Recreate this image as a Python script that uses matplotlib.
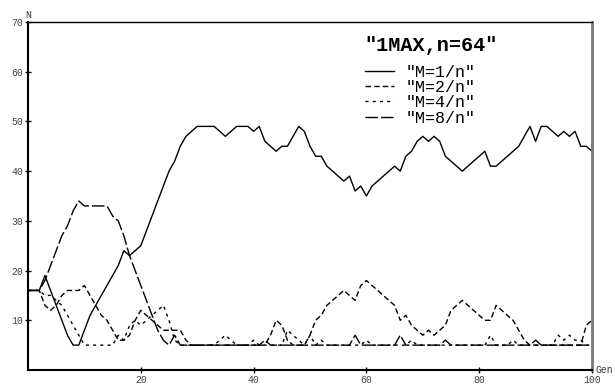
#GA run: number of ones vs generation, 1MAX with n=64
#four mutation rates M=1/n .. 8/n

import matplotlib.pyplot as plt

#PART1 - data
gen = list(range(101))

m1 = [16,16,16,19,16,13,10,7,5,5,
      8,11,13,15,17,19,21,24,23,24,
      25,28,31,34,37,40,42,45,47,48,
      49,49,49,49,48,47,48,49,49,49,
      48,49,46,45,44,45,45,47,49,48,
      45,43,43,41,40,39,38,39,36,37,
      35,37,38,39,40,41,40,43,44,46,
      47,46,47,46,43,42,41,40,41,42,
      43,44,41,41,42,43,44,45,47,49,
      46,49,49,48,47,48,47,48,45,45,
      44]

m2 = [16,16,16,13,12,13,15,16,16,16,
      17,15,13,11,10,8,6,6,7,10,
      12,11,10,9,8,8,8,8,6,5,
      5,5,5,5,5,5,5,5,5,5,
      5,5,5,7,10,9,6,5,5,5,
      7,10,11,13,14,15,16,15,14,17,
      18,17,16,15,14,13,10,11,9,8,
      7,8,7,8,9,12,13,14,13,12,
      11,10,10,13,12,11,10,8,6,5,
      5,5,5,5,5,5,5,5,5,9,
      10]

m4 = [16,16,16,15,15,14,13,11,9,7,
      5,5,5,5,5,5,7,6,9,10,
      9,10,11,12,13,10,6,5,5,5,
      5,5,5,5,6,7,6,5,5,5,
      6,5,5,5,5,5,8,7,6,5,
      7,5,6,5,5,5,5,5,5,5,
      6,5,5,5,5,5,5,5,6,5,
      5,5,5,5,5,5,5,5,5,5,
      5,5,7,5,5,5,6,5,5,5,
      5,5,5,5,7,6,7,6,6,5,
      5]

m8 = [16,16,16,18,21,24,27,29,32,34,
      33,33,33,33,33,31,30,27,23,20,
      17,14,11,8,6,5,7,5,5,5,
      5,5,5,5,5,5,5,5,5,5,
      5,5,6,5,5,5,5,5,5,5,
      5,5,5,5,5,5,5,5,7,5,
      5,5,5,5,5,5,7,5,5,5,
      5,5,5,5,6,5,5,5,5,5,
      5,5,5,5,5,5,5,5,5,5,
      6,5,5,5,5,5,5,5,5,5,
      5]

labels = ['"M=1/n"', '"M=2/n"', '"M=4/n"', '"M=8/n"']
title = '"1MAX,n=64"'
xticks = [20, 40, 60, 80, 100]
yticks = [10, 20, 30, 40, 50, 60, 70]

#PART2 - figure
plt.rcParams['font.family'] = ['Liberation Mono', 'DejaVu Sans Mono']
fig = plt.figure(figsize=(6.15, 3.85), dpi=100)
ax = fig.add_axes([28/615, 15/385, 564/615, 348/385])

lw = 1.0
ax.plot(gen, m1, color='black', lw=lw, label=labels[0])
ax.plot(gen, m2, color='black', lw=lw, dashes=(4, 2.2), label=labels[1])
ax.plot(gen, m4, color='black', lw=lw, dashes=(2.2, 3), label=labels[2])
ax.plot(gen, m8, color='black', lw=lw, dashes=(9, 2.2), label=labels[3])

ax.set_xlim(0, 100)
ax.set_ylim(0, 70)
ax.set_xticks(xticks)
ax.set_yticks(yticks)
ax.tick_params(direction='inout', length=5, width=1, labelsize=7, labelcolor='#444444', pad=1)

ax.spines['left'].set_linewidth(1.5)
ax.spines['bottom'].set_linewidth(1.5)
ax.spines['top'].set_linewidth(1.0)
ax.spines['right'].set_linewidth(2.0)
ax.spines['right'].set_color('#777777')

#axis names at the ends of the axes
ax.text(0.0, 1.005, 'N', transform=ax.transAxes, ha='center', va='bottom', fontsize=7, color='#333333')
ax.text(1.006, 0.0, 'Gen', transform=ax.transAxes, ha='left', va='center', fontsize=7, color='#333333')

leg = ax.legend(loc='upper left', bbox_to_anchor=(0.597, 0.96), frameon=False,
                title=title, fontsize=12, handlelength=1.75, handletextpad=0.7,
                labelspacing=0.02, borderpad=0, borderaxespad=0)
leg.get_title().set_fontsize(14.5)
leg.get_title().set_fontweight('bold')
leg._legend_box.align = 'left'
leg._legend_box.sep = 7

plt.savefig('out.png', dpi=100)
